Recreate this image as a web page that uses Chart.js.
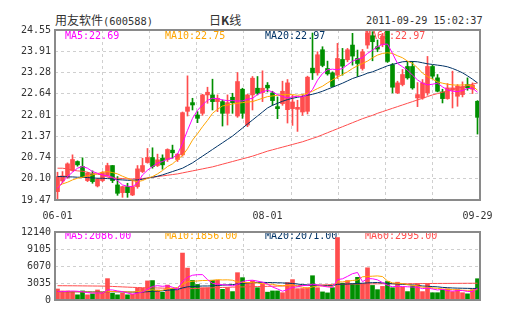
<!DOCTYPE html>
<html>
<head>
<meta charset="utf-8">
<script src="https://cdn.jsdelivr.net/npm/chart.js@4.4.1/dist/chart.umd.min.js"></script>
<style>
    body { margin: 0; background: #fff; width: 505px; height: 330px; position: relative; overflow: hidden; color: #333; }
    canvas { position: absolute; left: 0; }
    #priceChart { top: 0; }
    #volChart { top: 222px; }
    .hd { position: absolute; top: 14px; line-height: 12px; white-space: nowrap; font-size: 12px; font-family: 'Noto Sans CJK SC', sans-serif; }
    .mono { font-family: 'DejaVu Sans Mono', monospace; font-size: 10.4px; }
</style>
</head>
<body>
<div class="hd" style="left:55px">用友软件<span class="mono">(600588)</span></div>
<div class="hd" style="left:209px">日<b>K</b>线</div>
<div class="hd mono" style="left:366px; top:15px; font-size:10.2px">2011-09-29 15:02:37</div>
<canvas id="priceChart" width="505" height="225"></canvas>
<canvas id="volChart" width="505" height="88"></canvas>
<script>
// trading days per month (2011)
const juneDays = [1,2,3,7,8,9,10,13,14,15,16,17,20,21,22,23,24,27,28,29,30];
const julyDays = [1,4,5,6,7,8,11,12,13,14,15,18,19,20,21,22,25,26,27,28,29];
const augDays = [1,2,3,4,5,8,9,10,11,12,15,16,17,18,19,22,23,24,25,26,29,30,31];
const sepDays = [1,2,5,6,7,8,9,13,14,15,16,19,20,21,22,23,26,27,28,29];
const xTickLabels = ['06-01', '08-01', '09-29'];

const openPx = [19.72,20.04,20.15,20.35,20.62,20.47,20.05,20.25,19.89,20.05,
    20.20,20.50,19.92,19.69,19.87,19.62,19.87,20.32,20.59,20.74,
    20.50,20.72,20.68,20.96,20.68,20.82,22.12,22.38,22.01,22.06,
    22.61,22.61,22.41,22.41,22.06,22.54,21.98,22.78,21.71,22.61,
    22.81,22.68,22.90,22.67,22.26,22.35,22.17,22.20,22.18,22.10,
    22.12,23.41,23.27,23.96,23.40,23.27,23.20,23.67,23.66,24.10,
    23.70,23.40,24.10,24.38,24.05,24.11,24.51,23.51,22.67,22.92,
    23.46,23.46,22.52,22.52,22.67,23.46,23.12,22.70,22.50,22.75,
    22.57,22.62,22.92,22.78,22.42];
const closePx = [20.17,20.19,20.55,20.68,20.52,20.17,20.27,20.02,20.09,20.29,
    20.50,20.05,19.67,19.87,19.69,19.87,20.40,20.50,20.74,20.47,
    20.67,20.52,20.98,20.88,20.84,22.08,22.25,22.31,21.91,22.61,
    22.69,22.41,22.51,22.06,22.38,22.38,23.01,22.06,22.61,23.11,
    22.66,22.81,22.82,22.44,22.20,22.72,22.97,22.40,22.24,22.55,
    23.14,23.27,23.81,23.49,23.24,22.86,23.70,23.47,23.96,23.77,
    23.55,23.90,24.45,24.20,23.98,24.36,23.61,22.84,22.97,23.22,
    23.12,22.82,22.62,22.97,23.46,23.17,22.72,22.50,22.82,22.82,
    22.87,22.86,22.82,22.90,21.94];
const highPx = [20.30,20.32,20.58,20.82,20.64,20.73,20.30,20.34,20.12,20.32,
    20.57,20.50,20.17,19.88,19.97,20.07,20.50,20.72,21.01,21.03,
    20.84,20.82,21.00,21.11,20.86,22.10,23.18,22.51,22.11,22.63,
    22.84,23.08,22.61,22.46,22.61,22.66,23.28,22.81,22.63,23.16,
    23.16,23.33,22.98,22.72,22.55,23.02,23.07,22.60,22.45,22.62,
    23.17,24.46,23.90,24.05,23.62,23.30,24.15,24.00,24.00,24.45,
    23.95,23.97,24.55,24.50,24.25,24.45,24.55,23.55,23.02,23.37,
    23.61,23.61,22.98,23.07,23.76,23.50,23.22,22.78,22.95,23.32,
    22.92,23.00,23.12,22.97,22.44];
const lowPx = [19.50,19.98,20.12,20.33,20.48,20.15,20.02,19.97,19.86,20.02,
    20.18,19.99,19.61,19.55,19.55,19.60,19.82,20.29,20.57,20.42,
    20.47,20.39,20.62,20.72,20.62,20.78,21.98,22.16,21.78,22.00,
    22.36,22.16,22.11,21.68,21.71,22.06,21.94,21.91,21.66,22.16,
    22.61,22.41,22.70,22.30,21.90,22.30,21.77,21.70,21.52,22.00,
    22.04,23.07,23.20,23.45,23.20,22.85,23.10,23.20,23.60,23.50,
    23.16,23.35,24.00,23.63,23.90,24.05,23.58,22.67,22.65,22.88,
    23.08,22.78,22.26,22.48,22.60,23.10,22.70,22.37,22.48,22.22,
    22.27,22.55,22.75,22.65,21.44];

const ma5 = [19.82,20.00,20.17,20.30,20.42,20.47,20.42,20.32,20.27,20.22,
    20.19,20.15,20.05,19.92,19.88,19.87,19.97,20.22,20.36,20.47,
    20.57,20.62,20.69,20.72,20.84,21.16,21.55,21.91,22.15,22.31,
    22.45,22.51,22.50,22.46,22.44,22.44,22.43,22.43,22.48,22.51,
    22.62,22.70,22.75,22.70,22.62,22.56,22.52,22.55,22.57,22.55,
    22.62,22.77,23.05,23.25,23.36,23.38,23.36,23.40,23.51,23.62,
    23.68,23.72,23.85,23.95,24.05,24.12,24.13,23.85,23.55,23.45,
    23.35,23.20,23.06,22.96,22.91,22.93,22.96,22.85,22.76,22.72,
    22.71,22.74,22.80,22.81,22.69];
const ma10 = [19.87,19.95,20.00,20.07,20.12,20.15,20.19,20.22,20.26,20.30,
    20.32,20.29,20.25,20.18,20.12,20.05,20.02,20.05,20.12,20.17,
    20.25,20.35,20.47,20.55,20.68,20.80,21.00,21.26,21.45,21.66,
    21.85,22.06,22.18,22.28,22.31,22.34,22.36,22.38,22.40,22.41,
    22.46,22.51,22.56,22.58,22.60,22.62,22.62,22.62,22.60,22.62,
    22.66,22.72,22.80,22.87,22.97,23.06,23.14,23.22,23.30,23.40,
    23.48,23.55,23.62,23.72,23.80,23.85,23.87,23.85,23.78,23.72,
    23.62,23.55,23.42,23.26,23.16,23.08,23.00,22.96,22.93,22.91,
    22.90,22.91,22.91,22.88,22.75];
const ma20 = [20.17,20.17,20.16,20.16,20.15,20.15,20.14,20.13,20.12,20.12,
    20.11,20.10,20.08,20.07,20.06,20.06,20.07,20.09,20.12,20.15,
    20.18,20.22,20.27,20.32,20.37,20.42,20.50,20.58,20.68,20.78,
    20.88,20.98,21.08,21.18,21.28,21.38,21.50,21.62,21.74,21.86,
    21.98,22.10,22.22,22.30,22.36,22.42,22.47,22.51,22.54,22.57,
    22.60,22.63,22.67,22.72,22.78,22.84,22.90,22.96,23.03,23.10,
    23.15,23.20,23.26,23.30,23.36,23.42,23.48,23.52,23.56,23.60,
    23.61,23.61,23.60,23.57,23.54,23.52,23.50,23.48,23.45,23.40,
    23.34,23.27,23.18,23.08,22.97];
const ma60 = [20.42,20.42,20.40,20.36,20.34,20.33,20.30,20.26,20.24,20.22,
    20.15,20.13,20.12,20.11,20.10,20.10,20.10,20.11,20.13,20.15,
    20.17,20.19,20.21,20.23,20.25,20.28,20.31,20.34,20.37,20.40,
    20.43,20.46,20.50,20.54,20.58,20.62,20.66,20.70,20.74,20.78,
    20.83,20.88,20.93,20.97,21.01,21.05,21.09,21.13,21.17,21.21,
    21.26,21.31,21.36,21.42,21.48,21.54,21.60,21.66,21.72,21.78,
    21.84,21.90,21.95,22.00,22.06,22.11,22.16,22.21,22.26,22.31,
    22.36,22.41,22.46,22.51,22.56,22.61,22.65,22.69,22.73,22.77,
    22.81,22.85,22.89,22.93,22.97];

const volume = [1965,1618,1618,1500,925,1618,925,1100,1790,1390,
    3815,1210,925,1210,925,1040,2080,2080,3410,3470,
    1790,1390,2660,2080,1790,8380,5700,3500,2774,2196,
    2196,3526,3526,1907,2196,1503,4880,3990,2948,3440,
    2196,2900,1400,1620,1620,1300,3121,3641,2023,2050,
    2196,4335,2196,1445,1272,2196,11150,3006,3468,2890,
    4046,2890,5750,2600,1850,2428,3300,2196,3179,2312,
    1500,2500,2900,1500,2900,1300,1300,1800,2000,1500,
    1850,1300,1100,1850,3800];
const volMa5 = [1500,1480,1550,1600,1560,1460,1320,1230,1270,1230,
    1800,1790,1620,1490,1250,1050,1220,1460,1920,2420,
    2560,2440,2540,2280,1940,3340,4050,4420,4520,4530,
    3640,2970,2840,2740,2670,2530,2800,3290,3480,3530,
    3370,3180,2840,2320,1980,1570,1850,2260,2340,2560,
    2610,2840,2690,2480,2340,2260,3650,3780,4220,4700,
    4910,3260,3820,3790,3600,3100,2620,2360,2460,2410,
    2360,2320,2300,2030,2130,1970,1790,1900,1690,1580,
    1690,1690,1530,1520,2086];
const volMa10 = [1450,1460,1470,1480,1470,1450,1420,1400,1410,1400,
    1520,1520,1490,1460,1440,1430,1510,1540,1700,1830,
    1680,1750,2030,2100,2250,2800,3250,3350,3400,3480,
    3490,3510,3630,3580,3600,3530,3220,3130,3110,3130,
    3020,2920,2820,2800,2620,2550,2610,2720,2410,2270,
    2100,2340,2480,2510,2440,2410,3250,3230,3350,3480,
    3580,4150,4200,4250,4300,4180,3400,3050,3000,2940,
    2750,2620,2560,2280,2280,2150,2080,1980,1900,1850,
    1800,1750,1720,1760,1856];
const volMa20 = [1500,1490,1480,1480,1470,1460,1450,1440,1430,1430,
    1500,1480,1460,1440,1420,1410,1420,1430,1480,1550,
    1600,1650,1750,1800,1850,2150,2350,2400,2450,2500,
    2500,2520,2600,2650,2700,2750,2850,2950,3050,3100,
    3150,3150,3120,3100,3080,3050,3000,2950,2850,2750,
    2700,2650,2620,2600,2580,2560,2800,2820,2850,2900,
    2950,3000,3050,3100,3120,3050,2950,2900,2850,2800,
    2750,2700,2600,2500,2450,2400,2350,2250,2200,2150,
    2120,2100,2080,2060,2071];
const volMa60 = [2550,2550,2540,2540,2530,2520,2510,2500,2490,2480,
    2460,2420,2380,2340,2300,2260,2230,2200,2180,2160,
    2150,2120,2090,2060,2030,2000,2020,2040,2070,2100,
    2150,2180,2210,2240,2270,2300,2320,2340,2360,2380,
    2400,2420,2440,2460,2480,2500,2520,2540,2560,2580,
    2600,2630,2660,2690,2720,2750,2780,2800,2820,2840,
    2850,2860,2870,2880,2890,2900,2900,2900,2900,2900,
    2900,2910,2920,2930,2940,2950,2955,2960,2965,2970,
    2975,2980,2985,2990,2995];

const priceTickLabels = ['24.55','23.91','23.28','22.64','22.01','21.37','20.74','20.10','19.47'];
const volTickLabels = ['12140','9105','6070','3035','0'];
const priceMaLabels = ['MA5:22.69', 'MA10:22.75', 'MA20:22.97', 'MA60:22.97'];
const volMaLabels = ['MA5:2086.00', 'MA10:1856.00', 'MA20:2071.00', 'MA60:2995.00'];

const RED = '#ff4d4d';
const GREEN = '#008f00';
const MA_COLORS = ['#ff00ff', '#ffa500', '#003366', '#ff4c4c'];
const GRID = '#cfcfcf';
const TICK_FONT = { family: "'DejaVu Sans Mono', monospace", size: 10 };

const dates = [['06', juneDays], ['07', julyDays], ['08', augDays], ['09', sepDays]]
    .flatMap(([m, days]) => days.map(d => m + '-' + String(d).padStart(2, '0')));
const candleColors = closePx.map((c, i) => (c >= openPx[i] ? RED : GREEN));

/**
 * Draw MA captions before the marks and the grey frame after them
 */
function panelPlugin(labels, textY) {
    return {
        id: 'panel',
        beforeDatasetsDraw(chart) {
            const ctx = chart.ctx;
            ctx.save();
            ctx.font = "10px 'DejaVu Sans Mono', monospace";
            ctx.textBaseline = 'middle';
            labels.forEach((t, k) => {
                ctx.fillStyle = MA_COLORS[k];
                ctx.fillText(t, chart.chartArea.left + 10 + k * 100, textY);
            });
            ctx.restore();
        },
        afterDatasetsDraw(chart) {
            const a = chart.chartArea;
            const ctx = chart.ctx;
            ctx.save();
            ctx.strokeStyle = '#8a8a8a';
            ctx.lineWidth = 2;
            ctx.strokeRect(a.left, a.top, a.right - a.left, a.bottom - a.top);
            ctx.restore();
        }
    };
}

function maLine(data, k) {
    return {
        type: 'line',
        data: data,
        borderColor: MA_COLORS[k],
        borderWidth: 1,
        pointRadius: 0,
        tension: 0,
        order: k
    };
}

function gridAxis() {
    return {
        type: 'linear',
        position: 'bottom',
        min: 0,
        max: 8,
        ticks: { display: false, stepSize: 1 },
        grid: { color: GRID, drawTicks: false },
        border: { display: false, dash: [3, 3] },
        afterFit: s => { s.height = 0; }
    };
}

function valueAxis(min, max, labels) {
    return {
        type: 'linear',
        min: min,
        max: max,
        afterBuildTicks: s => {
            const n = labels.length - 1;
            s.ticks = labels.map((_, k) => ({ value: min + (max - min) * k / n }));
        },
        ticks: {
            autoSkip: false,
            padding: 4,
            color: '#333',
            font: TICK_FONT,
            callback: (v, i) => labels[labels.length - 1 - i]
        },
        grid: { color: GRID, drawTicks: false },
        border: { display: false, dash: [3, 3] },
        afterFit: s => { s.width = 55; }
    };
}

new Chart(document.getElementById('priceChart'), {
    type: 'bar',
    data: {
        labels: dates,
        datasets: [
            maLine(ma5, 0), maLine(ma10, 1), maLine(ma20, 2), maLine(ma60, 3),
            {
                data: openPx.map((o, i) => [o, closePx[i]]),
                backgroundColor: candleColors,
                barThickness: 4,
                grouped: false,
                order: 10
            },
            {
                data: lowPx.map((l, i) => [l, highPx[i]]),
                backgroundColor: candleColors,
                barThickness: 1,
                grouped: false,
                order: 11
            }
        ]
    },
    options: {
        responsive: false,
        animation: false,
        layout: { padding: { top: 30, right: 25, left: 0, bottom: 0 } },
        plugins: { legend: { display: false }, tooltip: { enabled: false } },
        scales: {
            x: {
                type: 'category',
                offset: true,
                grid: { display: false },
                border: { display: false },
                ticks: {
                    autoSkip: false,
                    maxRotation: 0,
                    padding: 2,
                    color: '#333',
                    font: TICK_FONT,
                    callback: (v, i) => (xTickLabels.includes(dates[i]) ? dates[i] : '')
                },
                afterFit: s => { s.height = 25; }
            },
            xg: gridAxis(),
            y: valueAxis(19.47, 24.55, priceTickLabels)
        }
    },
    plugins: [panelPlugin(priceMaLabels, 36)]
});

new Chart(document.getElementById('volChart'), {
    type: 'bar',
    data: {
        labels: dates,
        datasets: [
            maLine(volMa5, 0), maLine(volMa10, 1), maLine(volMa20, 2), maLine(volMa60, 3),
            {
                data: volume,
                backgroundColor: candleColors,
                barThickness: 4,
                order: 10
            }
        ]
    },
    options: {
        responsive: false,
        animation: false,
        layout: { padding: { top: 8, right: 25, left: 0, bottom: 10 } },
        plugins: { legend: { display: false }, tooltip: { enabled: false } },
        scales: {
            x: { type: 'category', offset: true, display: false },
            xg: gridAxis(),
            y: valueAxis(0, 12140, volTickLabels)
        }
    },
    plugins: [panelPlugin(volMaLabels, 14)]
});
</script>
</body>
</html>
